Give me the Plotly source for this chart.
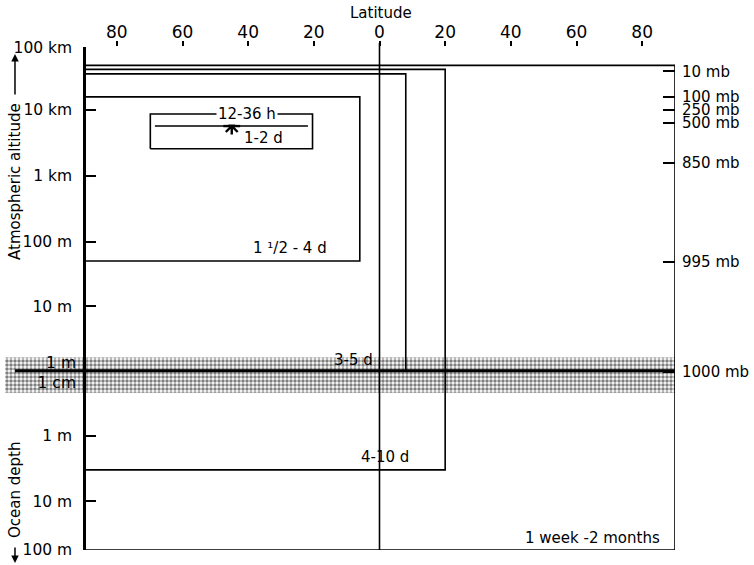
import plotly.graph_objects as go

# ---- data ----
lat_ticks = [-80, -60, -40, -20, 0, 20, 40, 60, 80]
lat_labels = ["80", "60", "40", "20", "0", "20", "40", "60", "80"]

# vertical scale in "decades" (surface = 0)
alt_tick_pos = [4.92, 3.97, 2.97, 1.96, 0.98, -0.99, -1.99, -2.72]
alt_tick_labels = ["100 km", "10 km", "1 km", "100 m", "10 m", "1 m", "10 m", "100 m"]
# labels at the air-sea interface (no tick marks in the reference)
surf_tick_pos = [0.12, -0.18]
surf_tick_labels = ["1 m", "1 cm"]

pres_tick_pos = [4.56, 4.17, 3.97, 3.77, 3.16, 1.66, -0.02]
pres_tick_labels = ["10 mb", "100 mb", "250 mb", "500 mb", "850 mb", "995 mb", "1000 mb"]

box_names = ["1 week -2 months", "4-10 d", "3-5 d", "1 \u00b9/2 - 4 d", "1-2 d"]
box_west = [-90, -90, -90, -90, -69.8]
box_east = [90, 20, 8, -6, -20.4]
box_top = [4.65, 4.59, 4.52, 4.17, 3.91]
box_bottom = [-2.73, -1.51, 0.0, 1.67, 3.38]
label_lat = [64.9, 1.8, -7.8, -27.2, -35.3]
label_lev = [-2.54, -1.31, 0.16, 1.875, 3.55]

short_name = "12-36 h"
short_lat = [-68.4, -21.8]
short_lev = 3.726
short_label_lat = -40.4
short_label_lev = 3.91
star_lat = -45.0

band_lev = [-0.335, 0.2]        # air-sea interface band
surface_lev = 0.0
x_range = [-114.06, 90]
y_range = [-2.73, 4.93]

FONT = "DejaVu Sans"
fig = go.Figure()

# stippled interface band
fig.add_trace(go.Scatter(
    x=[x_range[0], x_range[1], x_range[1], x_range[0], x_range[0]],
    y=[band_lev[0], band_lev[0], band_lev[1], band_lev[1], band_lev[0]],
    mode="lines", fill="toself", line=dict(width=0),
    fillcolor="white",
    fillpattern=dict(shape=".", fgcolor="black", bgcolor="white", size=4, solidity=0.6),
    hoverinfo="skip", showlegend=False))

# boxes
for w, e, t, b in zip(box_west, box_east, box_top, box_bottom):
    fig.add_trace(go.Scatter(
        x=[w, e, e, w, w], y=[b, b, t, t, b], mode="lines",
        line=dict(color="black", width=1.6), hoverinfo="skip", showlegend=False))

# surface line
fig.add_trace(go.Scatter(
    x=[-111, x_range[1]], y=[surface_lev, surface_lev], mode="lines",
    line=dict(color="black", width=3), hoverinfo="skip", showlegend=False))

# 12-36 h line and star
fig.add_trace(go.Scatter(
    x=short_lat, y=[short_lev, short_lev], mode="lines",
    line=dict(color="black", width=1.6), hoverinfo="skip", showlegend=False))
fig.add_trace(go.Scatter(
    x=[star_lat], y=[short_lev], mode="markers",
    marker=dict(symbol="asterisk-open", size=14, color="black",
                line=dict(color="black", width=2.4)),
    hoverinfo="skip", showlegend=False))

# axis carriers
fig.add_trace(go.Scatter(x=[0], y=[0], yaxis="y2", mode="markers",
                         marker=dict(opacity=0), hoverinfo="skip", showlegend=False))
fig.add_trace(go.Scatter(x=[0], y=[0], yaxis="y3", mode="markers",
                         marker=dict(opacity=0), hoverinfo="skip", showlegend=False))

# equator line
fig.add_shape(type="line", xref="x", yref="paper", x0=0, x1=0, y0=0, y1=1.008,
              line=dict(color="black", width=1.6))

ann = []
for name, la, lv in zip(box_names, label_lat, label_lev):
    ann.append(dict(x=la, y=lv, xref="x", yref="y", text=name, showarrow=False,
                    xanchor="center", yanchor="middle",
                    font=dict(size=15, color="black", family=FONT)))
ann.append(dict(x=short_label_lat, y=short_label_lev, xref="x", yref="y", text=short_name,
                showarrow=False, bgcolor="white", xanchor="center", yanchor="middle",
                font=dict(size=15, color="black", family=FONT)))
ann.append(dict(x=0.6, y=1.068, xref="x", yref="paper", text="Latitude", showarrow=False,
                xanchor="center", yanchor="middle",
                font=dict(size=15, color="black", family=FONT)))
ann.append(dict(x=0.0149, y=0.7336, xref="paper", yref="paper", text="Atmospheric altitude",
                textangle=-90, showarrow=False, xanchor="center", yanchor="middle",
                font=dict(size=15, color="black", family=FONT)))
ann.append(dict(x=0.0149, y=0.1193, xref="paper", yref="paper", text="Ocean depth",
                textangle=-90, showarrow=False, xanchor="center", yanchor="middle",
                font=dict(size=15, color="black", family=FONT)))
ann.append(dict(x=0.0149, y=0.986, xref="paper", yref="paper", text="", showarrow=True,
                ax=0, ay=42, arrowhead=2, arrowsize=1, arrowwidth=1.5, arrowcolor="black"))
ann.append(dict(x=0.0149, y=-0.0258, xref="paper", yref="paper", text="", showarrow=True,
                ax=0, ay=-17, arrowhead=2, arrowsize=1, arrowwidth=1.5, arrowcolor="black"))

fig.update_layout(
    width=754, height=565,
    margin=dict(l=5, r=79, t=47, b=15),
    paper_bgcolor="white", plot_bgcolor="white",
    font=dict(family=FONT, size=15, color="black"),
    annotations=ann,
    xaxis=dict(range=x_range, side="top", tickmode="array", tickvals=lat_ticks,
               ticktext=lat_labels, ticks="outside", ticklen=5, tickwidth=1.5,
               tickcolor="black", showline=False, showgrid=False, zeroline=False,
               ticklabelstandoff=-4,
               tickfont=dict(size=17, family=FONT), fixedrange=True),
    yaxis=dict(range=y_range, anchor="free", position=79 / 670, tickmode="array",
               tickvals=alt_tick_pos, ticktext=alt_tick_labels, ticks="inside",
               ticklen=10, tickwidth=1.5, tickcolor="black", showline=True,
               linecolor="black", linewidth=2.5, showgrid=False, zeroline=False,
               ticklabelstandoff=8, tickfont=dict(size=15.5, family=FONT)),
    yaxis3=dict(range=y_range, overlaying="y", anchor="free", position=79 / 670,
                side="left", tickmode="array", tickvals=surf_tick_pos,
                ticktext=surf_tick_labels, ticks="", showline=False, showgrid=False,
                zeroline=False, ticklabelstandoff=8,
                tickfont=dict(size=15.5, family=FONT)),
    yaxis2=dict(range=y_range, overlaying="y", side="right", anchor="x",
                tickmode="array", tickvals=pres_tick_pos, ticktext=pres_tick_labels,
                ticks="inside", ticklen=12, tickwidth=1.5, tickcolor="black",
                showline=False, showgrid=False, zeroline=False, ticklabelstandoff=6,
                tickfont=dict(size=15, family=FONT)),
)

fig.write_html("out.html", config={"displayModeBar": False},
               post_script="document.body.style.margin='0px';")
